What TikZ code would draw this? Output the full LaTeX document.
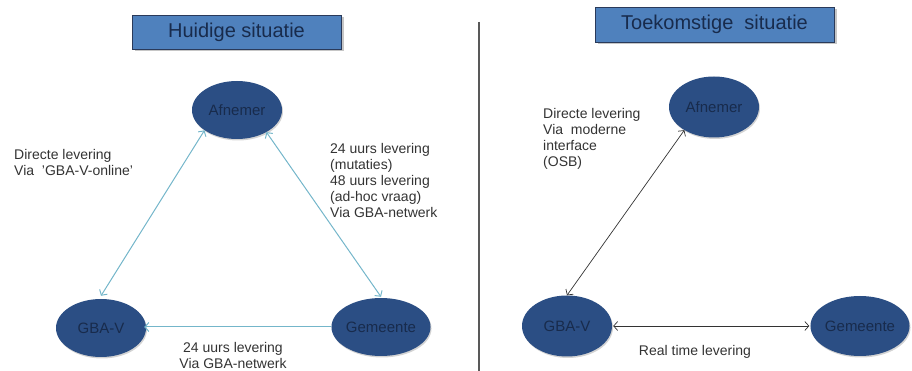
\documentclass[tikz,border=0pt]{standalone}
\usepackage{fontspec}
\setmainfont{Liberation Sans}
\usetikzlibrary{shapes.geometric,arrows.meta,shadows}
\definecolor{ovalblue}{HTML}{2B4E84}
\definecolor{ovaltext}{HTML}{182B4C}
\definecolor{titleblue}{HTML}{4F81BD}
\definecolor{titleline}{HTML}{2A3A5A}
\definecolor{linkblue}{HTML}{74B6CA}
\definecolor{labelgray}{HTML}{333333}
\tikzset{
  party/.style={ellipse,fill=ovalblue,text=ovaltext,inner sep=0pt,
    minimum width=90pt,minimum height=58pt,font=\fontsize{15}{17}\selectfont,
    drop shadow={shadow xshift=1pt,shadow yshift=-1.5pt,opacity=0.35}},
  titlebox/.style={rectangle,fill=titleblue,draw=titleline,line width=0.8pt,
    text=ovaltext,font=\fontsize{20}{22}\selectfont,inner sep=0pt,
    drop shadow={shadow xshift=2.5pt,shadow yshift=-2.5pt,opacity=0.45}},
  note/.style={text=labelgray,inner sep=0pt,font=\fontsize{14}{16}\selectfont},
  oldlink/.style={linkblue,line width=1pt},
  newlink/.style={black!80,line width=0.7pt}
}
\begin{document}
\begin{tikzpicture}[x=1pt,y=1pt,>={Straight Barb[length=4pt,width=9pt]}]
  \useasboundingbox (0,0) rectangle (912,371);

  % huidige situatie
  \node[titlebox,minimum width=209pt,minimum height=34pt] (titel1) at (236.5,339) {Huidige situatie};
  \node[party] (afn1) at (237,261) {Afnemer};
  \node[party] (gba1) at (101,43) {GBA-V};
  \node[party,minimum width=88pt] (gem1) at (381,44) {Gemeente};

  \draw[oldlink,<->] (afn1.212) -- ([yshift=3pt]gba1.north);
  \draw[oldlink,<->] (afn1.323) -- ([yshift=1pt]gem1.north);
  \draw[oldlink,->] (gem1.west) -- ([xshift=-2pt]gba1.east |- gem1.west);

  \node[note,anchor=north west,align=left] (txt1) at (14,222)
    {Directe levering\\Via~~'GBA-V-online'};
  \node[note,anchor=north west,align=left] (txt2) at (330,228)
    {24 uurs levering\\(mutaties)\\48 uurs levering\\(ad-hoc vraag)\\Via GBA-netwerk};
  \node[note,anchor=north,align=center] (txt3) at (233,29)
    {24 uurs levering\\Via GBA-netwerk};

  % scheiding
  \coordinate (top) at (479,349);
  \coordinate (bottom) at (479,0);
  \draw[black!65,line width=1.3pt] (top) -- (bottom);

  % toekomstige situatie
  \node[titlebox,minimum width=239pt,minimum height=35pt] (titel2) at (714.5,346.5) {Toekomstige~~situatie};
  \node[party,minimum height=61pt] (afn2) at (714,264) {Afnemer};
  \node[party,minimum height=61pt] (gba2) at (567,45) {GBA-V};
  \node[party,minimum height=60pt] (gem2) at (860,45) {Gemeente};

  \draw[newlink,<->] (afn2.218) -- (gba2.north);
  \draw[newlink,<->] ([xshift=1pt]gba2.east) -- ([xshift=-1pt]gem2.west);

  \node[note,anchor=north west,align=left] (txt4) at (543,263)
    {Directe levering\\Via~~moderne\\interface\\(OSB)};
  \node[note,anchor=north] (txt5) at (695,26) {Real time levering};
\end{tikzpicture}
\end{document}
